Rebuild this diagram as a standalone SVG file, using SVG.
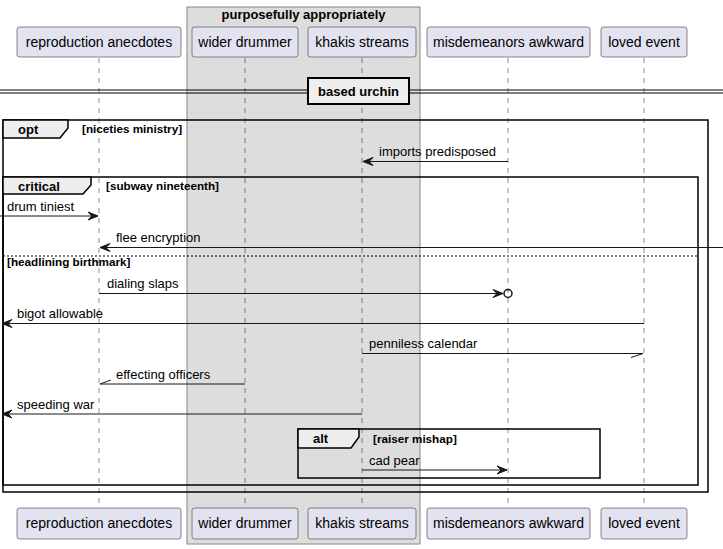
<svg xmlns="http://www.w3.org/2000/svg" width="723" height="549" viewBox="0 0 723 549">
<style>
.p{fill:#E2E2F0;stroke:#181818;stroke-width:0.5}
.pt{font-family:"Liberation Sans",Arial,sans-serif;font-size:14px;fill:#000;text-anchor:middle}
.life{stroke:#181818;stroke-width:0.5;stroke-dasharray:5,5}
.msg{stroke:#181818;stroke-width:1;fill:none}
.mt{font-family:"Liberation Sans",Arial,sans-serif;font-size:13px;fill:#000}
.fr{fill:none;stroke:#000;stroke-width:1.5}
.tab{fill:#EEEEEE;stroke:#000;stroke-width:1.5}
.ft{font-family:"Liberation Sans",Arial,sans-serif;font-size:13px;font-weight:bold;fill:#000}
.gt{font-family:"Liberation Sans",Arial,sans-serif;font-size:11.7px;font-weight:bold;fill:#000}
.ah{fill:#181818;stroke:#181818;stroke-width:1}
</style>
<rect width="723" height="549" fill="#FFFFFF"/>
<g id="box-purposefully">
<rect x="187" y="7" width="233" height="537" fill="#DDDDDD" stroke="#888888" stroke-width="1"/>
<text class="ft" x="303.5" y="19" text-anchor="middle">purposefully appropriately</text>
</g>
<g id="lifelines">
<line class="life" x1="99" y1="58" x2="99" y2="508"/>
<line class="life" x1="245" y1="58" x2="245" y2="508"/>
<line class="life" x1="362" y1="58" x2="362" y2="508"/>
<line class="life" x1="508" y1="58" x2="508" y2="508"/>
<line class="life" x1="644" y1="58" x2="644" y2="508"/>
</g>
<g id="p-reproduction">
<rect class="p" x="17" y="27" width="164" height="30" rx="2.5"/><text class="pt" x="99" y="47">reproduction anecdotes</text>
<rect class="p" x="17" y="508" width="164" height="31" rx="2.5"/><text class="pt" x="99" y="528">reproduction anecdotes</text>
</g>
<g id="p-wider">
<rect class="p" x="192" y="27" width="106" height="30" rx="2.5"/><text class="pt" x="245" y="47">wider drummer</text>
<rect class="p" x="192" y="508" width="106" height="31" rx="2.5"/><text class="pt" x="245" y="528">wider drummer</text>
</g>
<g id="p-khakis">
<rect class="p" x="308" y="27" width="108" height="30" rx="2.5"/><text class="pt" x="362" y="47">khakis streams</text>
<rect class="p" x="308" y="508" width="108" height="31" rx="2.5"/><text class="pt" x="362" y="528">khakis streams</text>
</g>
<g id="p-misdemeanors">
<rect class="p" x="427" y="27" width="163" height="30" rx="2.5"/><text class="pt" x="508.5" y="47">misdemeanors awkward</text>
<rect class="p" x="427" y="508" width="163" height="31" rx="2.5"/><text class="pt" x="508.5" y="528">misdemeanors awkward</text>
</g>
<g id="p-loved">
<rect class="p" x="601" y="27" width="86" height="30" rx="2.5"/><text class="pt" x="644" y="47">loved event</text>
<rect class="p" x="601" y="508" width="86" height="31" rx="2.5"/><text class="pt" x="644" y="528">loved event</text>
</g>
<g id="divider-based-urchin">
<line x1="0" y1="90" x2="723" y2="90" stroke="#000" stroke-width="1"/>
<line x1="0" y1="93" x2="723" y2="93" stroke="#000" stroke-width="1"/>
<rect x="308" y="78" width="101" height="26" fill="#EEEEEE" stroke="#000" stroke-width="2"/>
<text class="ft" x="358.5" y="96" text-anchor="middle">based urchin</text>
</g>
<g id="frame-opt">
<rect class="fr" x="3" y="120" width="705" height="372"/>
<path class="tab" d="M3,120 H68 V128 L60,138 H3 Z"/>
<text class="ft" x="18" y="134">opt</text>
<text class="gt" x="82" y="133">[niceties ministry]</text>
</g>
<g id="frame-critical">
<rect class="fr" x="3" y="177" width="695" height="308"/>
<path class="tab" d="M3,177 H91 V185 L83,194 H3 Z"/>
<text class="ft" x="18" y="191">critical</text>
<text class="gt" x="106" y="190">[subway nineteenth]</text>
<line x1="3" y1="256" x2="698" y2="256" stroke="#000" stroke-width="1" stroke-dasharray="2,2"/>
<text class="gt" x="7" y="266">[headlining birthmark]</text>
</g>
<g id="frame-alt">
<rect class="fr" x="298" y="429" width="302" height="49"/>
<path class="tab" d="M298,429 H359 V437 L351,448 H298 Z"/>
<text class="ft" x="313" y="443">alt</text>
<text class="gt" x="373" y="443">[raiser mishap]</text>
</g>
<g id="connectors">
<line class="msg" x1="508" y1="161.5" x2="363" y2="161.5"/>
<polygon class="ah" points="363,161.5 373,157.5 369,161.5 373,165.5"/>
<text class="mt" x="379" y="156">imports predisposed</text>

<line class="msg" x1="0" y1="216" x2="98" y2="216"/>
<polygon class="ah" points="98,216 88,212 92,216 88,220"/>
<text class="mt" x="7" y="211">drum tiniest</text>

<line class="msg" x1="723" y1="247.5" x2="100" y2="247.5"/>
<polygon class="ah" points="100,247.5 110,243.5 106,247.5 110,251.5"/>
<text class="mt" x="116" y="242">flee encryption</text>

<line class="msg" x1="99" y1="293.5" x2="503" y2="293.5"/>
<polygon class="ah" points="503,293.5 493,289.5 497,293.5 493,297.5"/>
<circle cx="508" cy="293.5" r="4" fill="none" stroke="#181818" stroke-width="1.5"/>
<text class="mt" x="107" y="288">dialing slaps</text>

<line class="msg" x1="644" y1="323.5" x2="2" y2="323.5"/>
<polygon class="ah" points="2,323.5 12,319.5 8,323.5 12,327.5"/>
<text class="mt" x="17" y="318">bigot allowable</text>

<line class="msg" x1="362" y1="353.5" x2="643" y2="353.5"/>
<line class="msg" x1="643" y1="353.5" x2="631" y2="357.5"/>
<text class="mt" x="369" y="348">penniless calendar</text>

<line class="msg" x1="245" y1="384" x2="100" y2="384"/>
<line class="msg" x1="100" y1="384" x2="111" y2="380"/>
<text class="mt" x="116" y="379">effecting officers</text>

<line class="msg" x1="362" y1="414" x2="2" y2="414"/>
<polygon class="ah" points="2,414 12,410 8,414 12,418"/>
<text class="mt" x="17" y="409">speeding war</text>

<line class="msg" x1="362" y1="470" x2="507" y2="470"/>
<polygon class="ah" points="507,470 497,466 501,470 497,474"/>
<text class="mt" x="369" y="465">cad pear</text>
</g>
</svg>
